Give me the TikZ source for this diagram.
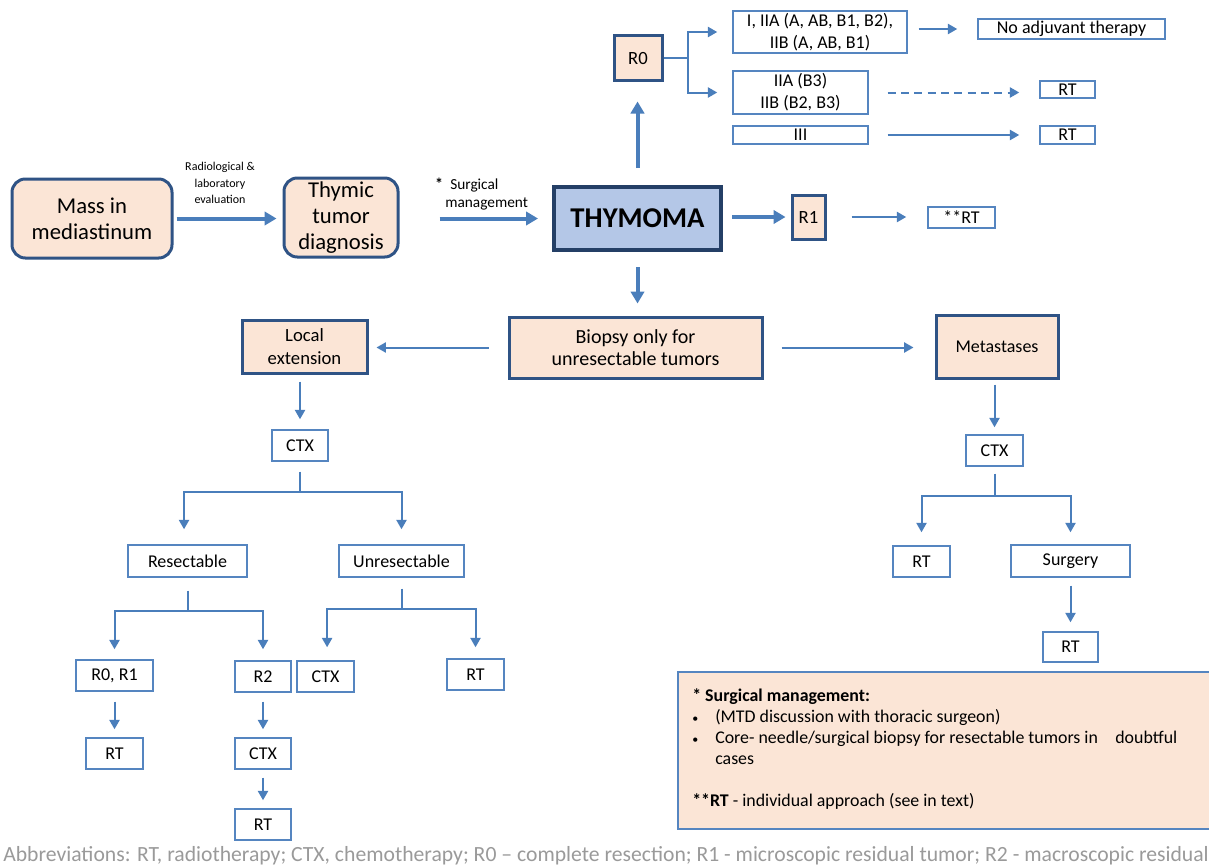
\documentclass[tikz,border=0pt]{standalone}
\usepackage{fontspec}
\setmainfont{Carlito}
\usetikzlibrary{arrows.meta}
\definecolor{peach}{HTML}{FBE5D6}
\definecolor{lblue}{HTML}{B4C7E7}
\definecolor{dkb}{HTML}{2F5385}
\definecolor{dkb2}{HTML}{243F66}
\definecolor{arrc}{HTML}{4A7EBB}
\definecolor{thinb}{HTML}{5585C0}
\definecolor{abbrc}{HTML}{9A9A9A}
\newcommand\bx[7]{\node[#6, minimum width={(#4-#2)*0.75pt}, minimum height={(#5-#3)*0.75pt}] (#1) at ({(#2+#4)/2},{(#3+#5)/2}) {#7};}
\begin{document}
\begin{tikzpicture}[x=0.75pt,y=-0.75pt,
  bigbox/.style={draw=dkb, line width=2.25pt, fill=peach, rounded corners=10pt, align=center, inner sep=0pt, font=\fontsize{17}{19.2}\selectfont},
  peachbox/.style={draw=dkb, line width=2.25pt, fill=peach, align=center, inner sep=0pt},
  thybox/.style={draw=dkb2, line width=3pt, fill=lblue, align=center, inner sep=0pt, font=\fontsize{21.5}{25}\selectfont\bfseries},
  wbox/.style={draw=thinb, line width=1.1pt, fill=white, align=center, inner sep=0pt, font=\fontsize{13.5}{16.5}\selectfont},
  legstyle/.style={draw=thinb, line width=1.1pt, fill=peach, inner sep=0pt},
  tarr/.style={draw=arrc, line width=3pt, -{Triangle[length=9pt,width=10pt]}},
  narr/.style={draw=arrc, line width=1.5pt, -{Triangle[length=7pt,width=7.5pt]}},
  nline/.style={draw=arrc, line width=1.5pt},
  lab/.style={align=center, inner sep=0pt, font=\fontsize{9}{12.4}\selectfont}
]
\useasboundingbox (0,0) rectangle (1209,867);
\fill[white] (0,0) rectangle (1209,867);

% nodes
\bx{mass}{12}{179}{172}{258}{bigbox}{Mass in\\mediastinum}
\bx{thymic}{284}{178}{398}{257}{bigbox}{Thymic\\tumor\\diagnosis}
\bx{thy}{554}{187}{721}{250}{thybox}{THYMOMA}
\bx{r1}{792}{195}{825}{239}{peachbox, font=\fontsize{14}{16}\selectfont}{R1}
\bx{rtss}{928}{207}{995}{228}{wbox}{**RT}
\bx{r0}{614}{36}{662}{81}{peachbox, font=\fontsize{14}{16}\selectfont}{R0}
\bx{g1}{733}{11}{907}{53}{wbox}{I, IIA (A, AB, B1, B2),\\IIB (A, AB, B1)}
\bx{noadj}{978}{19}{1165}{39}{wbox}{No adjuvant therapy}
\bx{g2}{733}{71}{868}{114}{wbox}{IIA (B3)\\IIB (B2, B3)}
\bx{rt1}{1040}{81}{1095}{98}{wbox}{RT}
\bx{g3}{733}{126}{868}{144}{wbox}{III}
\bx{rt2}{1040}{126}{1095}{144}{wbox}{RT}
\bx{biopsy}{509}{317}{762}{378}{peachbox, font=\fontsize{15}{17}\selectfont}{Biopsy only for\\unresectable tumors}
\bx{local}{242}{320}{367}{373}{peachbox, font=\fontsize{14}{17}\selectfont}{Local\\extension}
\bx{meta}{936}{315}{1058}{378}{peachbox, font=\fontsize{13.5}{16}\selectfont}{Metastases}
\bx{ctxL}{272}{430}{328}{461}{wbox}{CTX}
\bx{res}{128}{545}{247}{577}{wbox}{Resectable}
\bx{unres}{339}{545}{464}{577}{wbox}{Unresectable}
\bx{r01}{76}{660}{153}{691}{wbox}{R0, R1}
\bx{r2}{235}{661}{291}{692}{wbox}{R2}
\bx{ctxU}{297}{661}{354}{692}{wbox}{CTX}
\bx{rtU}{447}{659}{504}{690}{wbox}{RT}
\bx{rtA}{86}{738}{143}{769}{wbox}{RT}
\bx{ctxB}{235}{738}{291}{769}{wbox}{CTX}
\bx{rtB}{235}{809}{291}{840}{wbox}{RT}
\bx{ctxR}{966}{435}{1023}{466}{wbox}{CTX}
\bx{rtR}{893}{546}{950}{577}{wbox}{RT}
\bx{surg}{1011}{545}{1130}{577}{wbox}{Surgery}
\bx{rtS}{1043}{632}{1098}{662}{wbox}{RT}

% labels
\node[lab] (lab1) at (220,183) {Radiological \&\\laboratory\\evaluation};
\node[inner sep=0pt, align=left, anchor=west, font=\fontsize{11.5}{13.5}\selectfont] (lab2) at (445,194) {\hspace*{3.75pt}Surgical\\management};
\node[inner sep=0pt, font=\fontsize{12}{12}\selectfont\bfseries] (star) at (439,184) {*};

% top connectors
\draw[tarr, shorten <=2.25pt, shorten >=4.5pt] (mass.east) -- (thymic.west |- mass.east);
\draw[tarr, shorten <=30pt, shorten >=10.5pt] (thymic.east |- thy.west) -- (thy.west);
\draw[tarr, shorten <=6.75pt, shorten >=3.75pt] (thy.east |- r1.west) -- (r1.west);
\draw[narr, shorten <=18.75pt, shorten >=15.75pt] (r1.east) -- (rtss.west |- r1.east);
\draw[tarr, shorten <=12.75pt, shorten >=14.25pt] (thy.north) -- (thy.north |- r0.south);
\coordinate (j0) at (688,58.5);
\draw[nline] (r0.east) -- (j0);
\draw[narr, shorten >=11.25pt] (j0) |- (g1.west);
\draw[narr, shorten >=11.25pt] (j0) |- (g2.west);
\draw[narr, shorten <=8.25pt, shorten >=15pt] (g1.east |- noadj.west) -- (noadj.west);
\draw[narr, dashed, dash pattern=on 6pt off 4pt, shorten <=14.25pt, shorten >=15pt] (g2.east) -- (rt1.west |- g2.east);
\draw[narr, shorten <=14.25pt, shorten >=15pt] (g3.east) -- (rt2.west);

% middle
\draw[tarr, shorten <=11.25pt, shorten >=9pt] (thy.south) -- (thy.south |- biopsy.north);
\draw[narr, shorten <=14.25pt, shorten >=6pt] (biopsy.west) -- (local.east |- biopsy.west);
\draw[narr, shorten <=13.5pt, shorten >=15.75pt] (biopsy.east) -- (meta.west |- biopsy.east);

% left tree
\draw[narr, shorten <=5.25pt, shorten >=7.5pt] (local.south -| ctxL.north) -- (ctxL.north);
\coordinate (jL) at (300,492);
\draw[nline, shorten <=7.5pt] (ctxL.south) -- (jL);
\draw[narr, shorten >=11.25pt] (jL) -| ([xshift=-2.6pt]res.north);
\draw[narr, shorten >=11.25pt] (jL) -| (unres.north);
\coordinate (jR) at (187.5,611);
\draw[nline, shorten <=9.75pt] (res.south) -- (jR);
\draw[narr, shorten >=7.5pt] (jR) -| (r01.north);
\draw[narr, shorten >=8.25pt] (jR) -| (r2.north);
\coordinate (jU) at (401.5,609);
\draw[nline, shorten <=8.25pt] (unres.south) -- (jU);
\draw[narr, shorten >=9.75pt] (jU) -| ([xshift=1.2pt]ctxU.north);
\draw[narr, shorten >=8.25pt] (jU) -| (rtU.north);
\draw[narr, shorten <=7.5pt, shorten >=6pt] (r01.south) -- (rtA.north);
\draw[narr, shorten <=6.75pt, shorten >=6pt] (r2.south) -- (ctxB.north);
\draw[narr, shorten <=6pt, shorten >=6pt] (ctxB.south) -- (rtB.north);

% right tree
\draw[narr, shorten <=3.75pt, shorten >=5.25pt] (meta.south -| ctxR.north) -- (ctxR.north);
\coordinate (jM) at (994.5,496);
\draw[nline, shorten <=5.25pt] (ctxR.south) -- (jM);
\draw[narr, shorten >=9.75pt] (jM) -| (rtR.north);
\draw[narr, shorten >=9pt] (jM) -| (surg.north);
\draw[narr, shorten <=6pt, shorten >=6.75pt] (surg.south) -- (rtS.north);

% legend
\bx{legbox}{678}{672}{1216}{829}{legstyle}{}
\node[anchor=north west, inner sep=0pt, align=left, font=\fontsize{13.4}{15.75}\selectfont] (legtxt) at (692,688)
{\textbf{* Surgical management:}\\
\makebox[17.25pt][l]{\small•}(MTD discussion with thoracic surgeon)\\
\makebox[17.25pt][l]{\small•}Core- needle/surgical biopsy for resectable tumors in\hspace{10pt} doubtful\\
\hspace*{17.25pt}cases\\[15.75pt]
\textbf{**RT} - individual approach (see in text)};

% abbreviations
\node[anchor=west, inner sep=0pt, text=abbrc] (abbr) at (3,856)
{\resizebox{904pt}{!}{Abbreviations: RT, radiotherapy; CTX, chemotherapy; R0 – complete resection; R1 - microscopic residual tumor; R2 - macroscopic residual}};
\end{tikzpicture}
\end{document}
